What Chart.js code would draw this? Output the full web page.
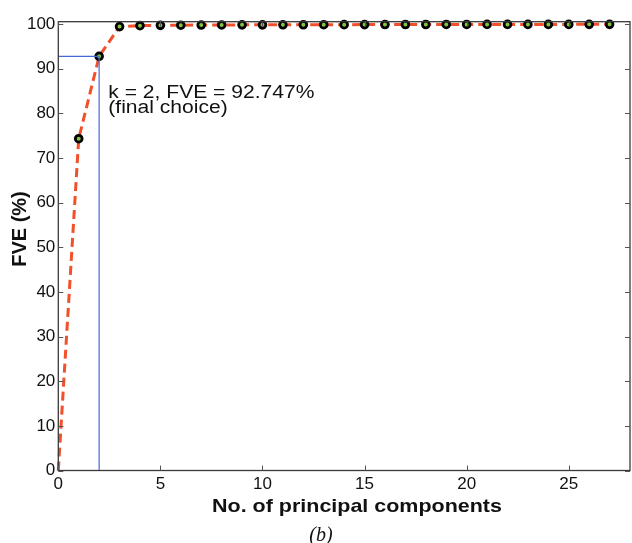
<!DOCTYPE html>
<html>
<head>
<meta charset="utf-8">
<script src="https://cdn.jsdelivr.net/npm/chart.js@4.4.1/dist/chart.umd.min.js"></script>
<style>
  html, body { margin: 0; padding: 0; background: #fff; }
  #wrap { width: 632px; height: 543px; position: relative; }
</style>
</head>
<body>
<div id="wrap"><canvas id="c" width="632" height="543"></canvas></div>
<script>
// ---- data ----
const components = [0,1,2,3,4,5,6,7,8,9,10,11,12,13,14,15,16,17,18,19,20,21,22,23,24,25,26,27];
const fve = [0, 74.3, 92.747, 99.4, 99.62, 99.68, 99.72, 99.75, 99.77, 99.79, 99.8, 99.81, 99.82, 99.83, 99.84,
             99.85, 99.86, 99.87, 99.87, 99.88, 99.88, 99.89, 99.89, 99.9, 99.9, 99.9, 99.91, 99.91];
const chosenK = 2;
const chosenFVE = 92.747;
const xTicks = [0, 5, 10, 15, 20, 25];
const yTicks = [0, 10, 20, 30, 40, 50, 60, 70, 80, 90, 100];
const annotationLines = ['k = 2, FVE = 92.747%', '(final choice)'];
const annotationAnchor = { x: 2.45, y: 83.5 };
const xTitle = 'No. of principal components';
const yTitle = 'FVE (%)';
const subLabel = '(b)';

const FONT = "'Liberation Sans', Helvetica, Arial, sans-serif";

const curveData = components.map((c, i) => ({ x: c, y: fve[i] }));
const refData = [{ x: 0, y: chosenFVE }, { x: chosenK, y: chosenFVE }, { x: chosenK, y: 0 }];

const decor = {
  id: 'decor',
  afterDraw(chart) {
    const { ctx, chartArea: a, scales: { x, y } } = chart;
    ctx.save();
    // frame
    ctx.strokeStyle = '#3a3a3a';
    ctx.lineWidth = 1.3;
    ctx.strokeRect(a.left, a.top, a.right - a.left, a.bottom - a.top);
    // inward ticks
    ctx.strokeStyle = '#555';
    ctx.lineWidth = 1;
    ctx.beginPath();
    yTicks.forEach(v => {
      const py = Math.round(y.getPixelForValue(v)) + 0.5;
      ctx.moveTo(a.left, py); ctx.lineTo(a.left + 5, py);
      ctx.moveTo(a.right, py); ctx.lineTo(a.right - 5, py);
    });
    xTicks.forEach(v => {
      const px = Math.round(x.getPixelForValue(v)) + 0.5;
      ctx.moveTo(px, a.bottom); ctx.lineTo(px, a.bottom - 5);
      ctx.moveTo(px, a.top); ctx.lineTo(px, a.top + 5);
    });
    ctx.stroke();

    // annotation
    ctx.fillStyle = '#111';
    ctx.textBaseline = 'alphabetic';
    ctx.textAlign = 'left';
    ctx.font = '18px ' + FONT;
    const ax = x.getPixelForValue(annotationAnchor.x);
    const ay = y.getPixelForValue(annotationAnchor.y);
    annotationLines.forEach((t, i) => {
      ctx.save();
      ctx.translate(ax, ay + i * 15);
      ctx.scale(1.17, 1);
      ctx.fillText(t, 0, 0);
      ctx.restore();
    });

    // x title
    ctx.font = 'bold 19px ' + FONT;
    ctx.textAlign = 'center';
    ctx.save();
    ctx.translate(357, 511.5);
    ctx.scale(1.13, 1);
    ctx.fillText(xTitle, 0, 0);
    ctx.restore();

    // y title
    ctx.save();
    ctx.font = 'bold 20px ' + FONT;
    ctx.translate(26, 229);
    ctx.rotate(-Math.PI / 2);
    ctx.textAlign = 'center';
    ctx.fillText(yTitle, 0, 0);
    ctx.restore();

    // sub label
    ctx.font = 'italic 20px "Liberation Serif", "Times New Roman", serif';
    ctx.textAlign = 'center';
    ctx.fillText(subLabel, 321, 541);
    ctx.restore();
  }
};

new Chart(document.getElementById('c'), {
  type: 'line',
  data: {
    datasets: [
      {
        label: 'choice',
        data: refData,
        borderColor: '#4468d4',
        borderWidth: 1.2,
        pointRadius: 0,
        tension: 0,
        fill: false
      },
      {
        label: 'FVE',
        data: curveData,
        borderColor: '#f2502a',
        borderWidth: 3,
        borderDash: [9, 5],
        tension: 0,
        fill: false,
        clip: 6,
        pointRadius: components.map(c => c === 0 ? 0 : 3.4),
        pointBackgroundColor: '#86c440',
        pointBorderColor: '#000',
        pointBorderWidth: 2.8
      }
    ]
  },
  options: {
    responsive: false,
    animation: false,
    events: [],
    layout: { autoPadding: false, padding: { top: 21.7, right: 2, left: 0, bottom: 0 } },
    plugins: { legend: { display: false }, tooltip: { enabled: false }, title: { display: false } },
    scales: {
      x: {
        type: 'linear',
        min: 0,
        max: 28,
        afterBuildTicks: s => { s.ticks = xTicks.map(v => ({ value: v })); },
        afterFit: s => { s.height = 72.5; },
        grid: { display: false, drawTicks: false },
        border: { display: false },
        ticks: { font: { family: FONT, size: 17 }, color: '#111', padding: 4, maxRotation: 0 }
      },
      y: {
        type: 'linear',
        min: 0,
        max: 100.5,
        afterBuildTicks: s => { s.ticks = yTicks.map(v => ({ value: v })); },
        afterFit: s => { s.width = 58.3; },
        grid: { display: false, drawTicks: false },
        border: { display: false },
        ticks: { font: { family: FONT, size: 17 }, color: '#111', padding: 3 }
      }
    }
  },
  plugins: [decor]
});
</script>
</body>
</html>
